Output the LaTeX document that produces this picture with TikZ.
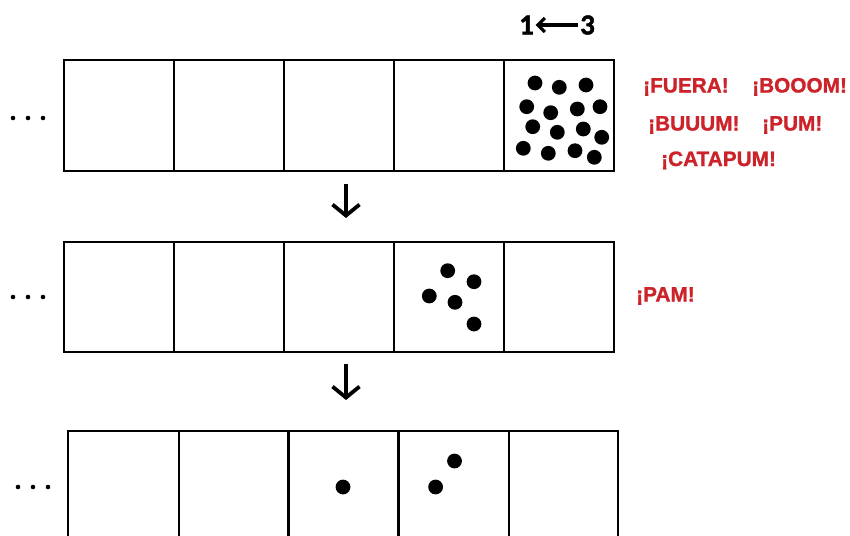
\documentclass[tikz,border=0pt]{standalone}
\usepackage{fontspec}
\setmainfont{Liberation Sans}
\newfontfamily\sndfont{Liberation Sans}[BoldFeatures={FakeBold=1.2}]
\newfontfamily\numfont{Carlito}[BoldFeatures={FakeBold=1.5}]
\usetikzlibrary{arrows.meta}
\definecolor{boom}{RGB}{204,34,41}
\begin{document}
\begin{tikzpicture}[x=1pt,y=-1pt,
  cellline/.style={line width=2.8pt, black},
  bead/.style={fill=black},
  tiny/.style={fill=black},
  snd/.style={text=boom, font=\sndfont\bfseries\fontsize{20.8}{24}\selectfont, inner sep=0pt, anchor=base west},
  digit/.style={font=\numfont\bfseries\fontsize{29}{32}\selectfont, inner sep=1.5pt},
  flow/.style={line width=3.8pt, -{Straight Barb[length=11pt,width=27pt,line width=3.8pt]}},
  back/.style={line width=3.4pt, -{Straight Barb[length=7pt,width=14pt,line width=3.2pt]}}
]
\useasboundingbox (0,0) rectangle (850,535);
\clip (0,0) rectangle (850,535);

% row 1
\draw[cellline] (64,60) rectangle (614,171);
\foreach \x in {174,284,394,504} \draw[cellline] (\x,60) -- (\x,171);
% row 2
\draw[cellline] (64,242) rectangle (614,352);
\foreach \x in {174,284,394,504} \draw[cellline] (\x,242) -- (\x,352);
% row 3
\draw[cellline] (68,545) -- (68,431) -- (618,431) -- (618,545);
\foreach \x in {179,288.5,398.5,509} \draw[cellline] (\x,431) -- (\x,545);

% ellipses
\foreach \x in {13,28,43} \fill[tiny] (\x,118) circle (2.3);
\foreach \x in {13,28,43} \fill[tiny] (\x,297) circle (2.3);
\foreach \x in {18,33,48} \fill[tiny] (\x,487) circle (2.3);

% beads row 1
\foreach \p in {(535,83),(559.3,87.3),(586,85),
                (526.7,106.7),(550.7,112.7),(577.3,109),(600,106.7),
                (532.7,126.7),(557.3,132.3),(583.3,129),(601.7,137.3),
                (523.3,148.3),(548.3,153.3),(575,150.7),(594.3,157.3)}
  \fill[bead] \p circle (7.4);
% beads row 2
\foreach \p in {(447.7,270.7),(474,281.7),(429.3,296),(455,302.3),(474,324)}
  \fill[bead] \p circle (7.4);
% beads row 3
\foreach \p in {(343,487),(435.6,487),(454.5,461)}
  \fill[bead] \p circle (7.4);

% flow arrows
\coordinate (a1) at (346,184);
\coordinate (b1) at (346,218);
\coordinate (a2) at (346,364);
\coordinate (b2) at (346,400);
\draw[flow] (a1) -- (b1);
\draw[flow] (a2) -- (b2);

% 1 <- 3
\node[digit] (one) at (526.5,25) {1};
\node[digit] (three) at (587.5,25) {3};
\draw[back] (three.west) -- (one.east);

% sounds
\node[snd] (fuera) at (643,92.5) {¡FUERA!};
\node[snd] (booom) at (752,92.5) {¡BOOOM!};
\node[snd] (buuum) at (648,130.5) {¡BUUUM!};
\node[snd] (pum) at (762,130.5) {¡PUM!};
\node[snd] (catapum) at (661,166) {¡CATAPUM!};
\node[snd] (pam) at (636,301.5) {¡PAM!};
\end{tikzpicture}
\end{document}
